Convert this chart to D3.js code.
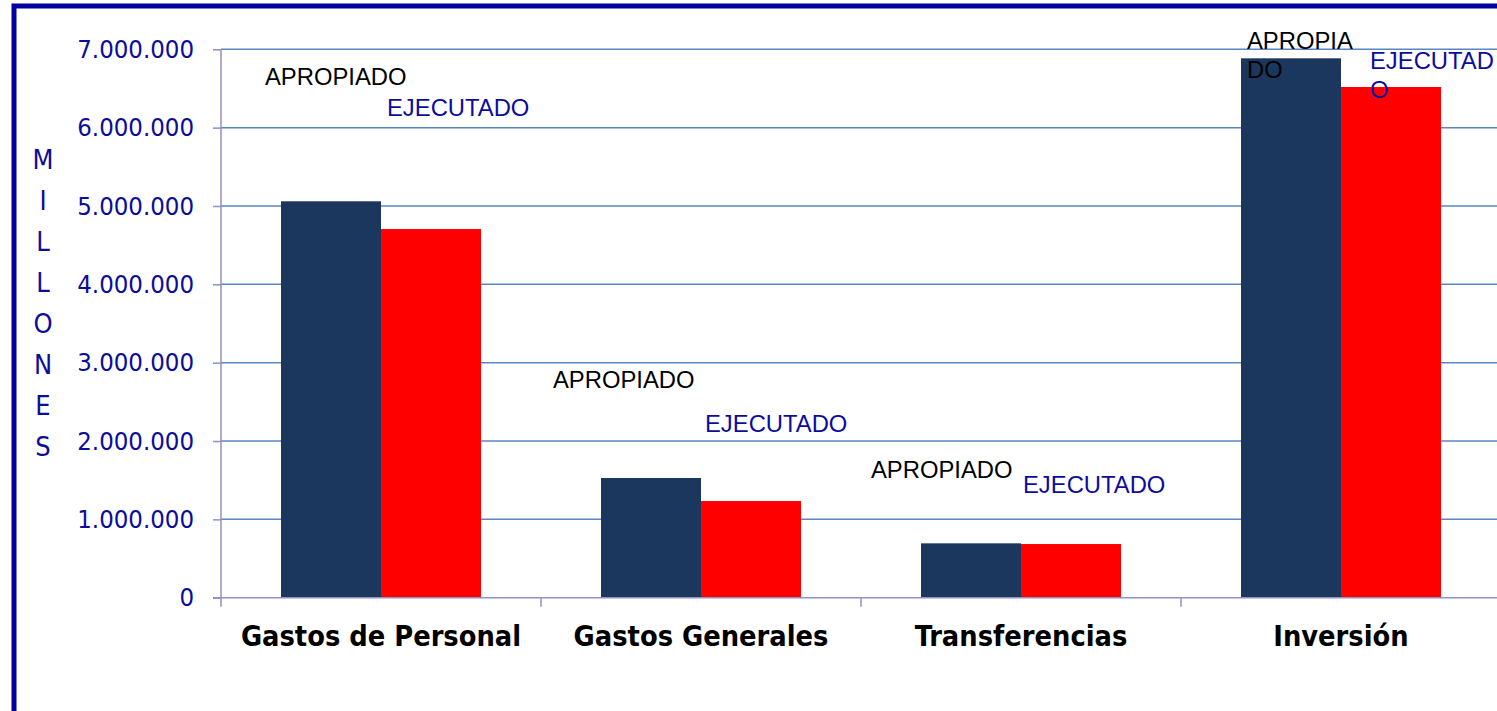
<!DOCTYPE html>
<html>
<head>
<meta charset="utf-8">
<script src="https://cdn.jsdelivr.net/npm/d3@7"></script>
<style>
  html, body { margin: 0; padding: 0; background: #fff; overflow: hidden; }
  svg { display: block; }
</style>
</head>
<body>
<div id="vis"></div>
<script>
// chart values (pesos, millones)
const categories = ['Gastos de Personal', 'Gastos Generales', 'Transferencias', 'Inversión'];
const series = ['APROPIADO', 'EJECUTADO'];
const apropiado = [5060000, 1528000, 694000, 6885000];
const ejecutado = [4706000, 1234000, 685000, 6519000];
const yTicks = [0, 1000000, 2000000, 3000000, 4000000, 5000000, 6000000, 7000000];
const axisTitle = 'MILLONES';

// hand-placed data labels, as in the original (x from band start, baseline y, text lines)
const labelPos = [
    [{dx: 44, y: 85, lines: ['APROPIADO']}, {dx: 166, y: 116, lines: ['EJECUTADO']}],
    [{dx: 12, y: 388, lines: ['APROPIADO']}, {dx: 164, y: 432, lines: ['EJECUTADO']}],
    [{dx: 10, y: 478, lines: ['APROPIADO']}, {dx: 162, y: 493, lines: ['EJECUTADO']}],
    [{dx: 66, y: 49, lines: ['APROPIA', 'DO']}, {dx: 189, y: 69, lines: ['EJECUTAD', 'O']}]
];

const width = 1497;
const height = 711;
const dimensions = {
    left: 221,
    right: 1501,
    top: 49.3,
    bottom: 597.7
};

const colors = ['#1b375d', '#ff0000'];
const labelColors = ['#000000', '#0c0c9c'];
const tickColor = '#0c0c9a';
const gridColor = '#5a86c0';
const axisColor = '#9191c2';

const data = categories.map((c, i) => ({ key: c, values: [apropiado[i], ejecutado[i]] }));

const svg = d3.select('#vis')
    .append('svg')
    .attr('width', width)
    .attr('height', height);

// frame
svg.append('rect')
    .attr('x', 14)
    .attr('y', 6)
    .attr('width', 1600)
    .attr('height', 800)
    .attr('fill', 'none')
    .attr('stroke', '#0000a0')
    .attr('stroke-width', 5);

const xScale = d3.scaleBand()
    .domain(categories)
    .range([dimensions.left, dimensions.right])
    .padding(0);

const groupWidth = xScale.bandwidth() * 0.625;
const xSub = d3.scaleBand()
    .domain(series)
    .range([0, groupWidth])
    .padding(0);

const yScale = d3.scaleLinear()
    .domain([0, 7000000])
    .range([dimensions.bottom, dimensions.top]);

const locale = d3.formatLocale({ decimal: ',', thousands: '.', grouping: [3], currency: ['$', ''] });
const fmt = locale.format(',d');

// gridlines
svg.append('g')
    .selectAll('line')
    .data(yTicks.filter(d => d > 0))
    .join('line')
    .attr('x1', dimensions.left)
    .attr('x2', width)
    .attr('y1', d => yScale(d))
    .attr('y2', d => yScale(d))
    .attr('stroke', gridColor)
    .attr('stroke-width', 1.5);

// bars
const groups = svg.append('g')
    .selectAll('g')
    .data(data)
    .join('g')
    .attr('transform', d => `translate(${xScale(d.key) + (xScale.bandwidth() - groupWidth) / 2},0)`);

groups.selectAll('rect')
    .data(d => d.values.map((v, i) => ({ s: series[i], v: v, i: i })))
    .join('rect')
    .attr('x', d => xSub(d.s))
    .attr('y', d => yScale(d.v))
    .attr('width', xSub.bandwidth())
    .attr('height', d => yScale(0) - yScale(d.v))
    .attr('fill', d => colors[d.i]);

// y axis
const yAxis = svg.append('g')
    .attr('transform', `translate(${dimensions.left},0)`)
    .call(d3.axisLeft(yScale).tickValues(yTicks).tickFormat(fmt).tickSizeOuter(0).tickSize(8).tickPadding(19));

yAxis.select('.domain')
    .attr('d', `M0,${dimensions.top}V${dimensions.bottom + 9}`)
    .attr('stroke', axisColor)
    .attr('stroke-width', 1.5);
yAxis.selectAll('.tick line').attr('stroke', axisColor).attr('stroke-width', 1.5);
yAxis.selectAll('.tick text')
    .attr('fill', tickColor)
    .style('font-family', '"DejaVu Sans Condensed", "DejaVu Sans", sans-serif')
    .style('font-stretch', 'condensed')
    .style('font-size', '25.5px');

// x axis
const xAxis = svg.append('g')
    .attr('transform', `translate(0,${dimensions.bottom})`);

xAxis.append('line')
    .attr('x1', dimensions.left - 8)
    .attr('x2', width)
    .attr('stroke', axisColor)
    .attr('stroke-width', 1.5);

xAxis.selectAll('.xtick')
    .data(categories.slice(1))
    .join('line')
    .attr('class', 'xtick')
    .attr('x1', d => xScale(d))
    .attr('x2', d => xScale(d))
    .attr('y1', 0)
    .attr('y2', 9)
    .attr('stroke', axisColor)
    .attr('stroke-width', 1.5);

xAxis.selectAll('text')
    .data(categories)
    .join('text')
    .attr('x', d => xScale(d) + xScale.bandwidth() / 2)
    .attr('y', 48)
    .attr('text-anchor', 'middle')
    .attr('fill', '#000')
    .style('font-family', '"DejaVu Sans Condensed", "DejaVu Sans", sans-serif')
    .style('font-stretch', 'condensed')
    .style('font-weight', 'bold')
    .style('font-size', '28.7px')
    .text(d => d);

// data labels
data.forEach((d, ci) => {
    labelPos[ci].forEach((p, si) => {
        const t = svg.append('text')
            .attr('fill', labelColors[si])
            .style('font-family', '"Liberation Sans", Arial, sans-serif')
            .style('font-size', '23.8px');
        p.lines.forEach((line, li) => {
            t.append('tspan')
                .attr('x', xScale(d.key) + p.dx)
                .attr('y', p.y + li * 29)
                .text(line);
        });
    });
});

// vertical axis title, one letter per line
svg.append('g')
    .selectAll('text')
    .data(axisTitle.split(''))
    .join('text')
    .attr('x', 43)
    .attr('y', (d, i) => 169 + i * 41)
    .attr('text-anchor', 'middle')
    .attr('fill', tickColor)
    .style('font-family', '"DejaVu Sans Condensed", "DejaVu Sans", sans-serif')
    .style('font-stretch', 'condensed')
    .style('font-size', '27px')
    .text(d => d);
</script>
</body>
</html>
